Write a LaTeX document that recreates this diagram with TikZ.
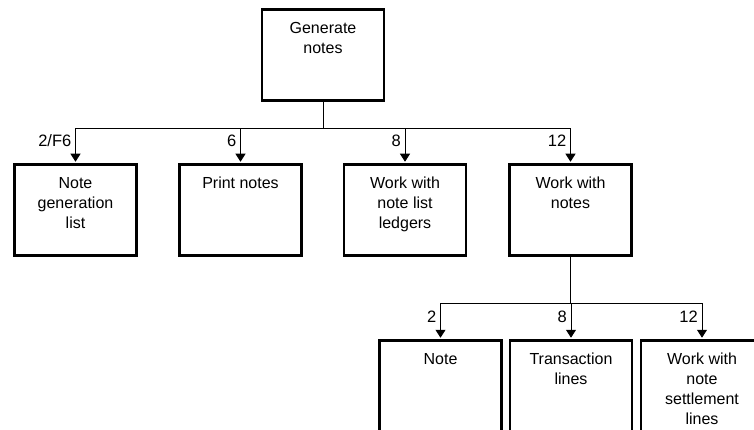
\documentclass[tikz,border=0pt]{standalone}
\usepackage{fontspec}
\setmainfont{Liberation Sans}
\usetikzlibrary{arrows.meta}
\begin{document}
\begin{tikzpicture}[
  x={(1pt,0)}, y={(0,-1pt)},
  font=\fontsize{16}{20}\selectfont,
  taskbox/.style={draw, line width=2.6pt, minimum width=122pt, minimum height=91.5pt, inner sep=0pt},
  boxtext/.style={anchor=north, inner sep=0pt, align=center, yshift=-14pt},
  link/.style={line width=0.9pt},
  feed/.style={line width=0.9pt, -{Triangle[width=10pt,length=8pt]}, shorten >=1.2pt},
  num/.style={anchor=base east, inner sep=0pt, font=\fontsize{16.5}{20}\selectfont}
]
\useasboundingbox (0,0) rectangle (754,430);
\clip (0,0) rectangle (754,430);

% top task
\node[taskbox] (top) at (323,55) {};
\node[boxtext] (topt) at (top.north) {Generate\\notes};

% second row
\node[taskbox] (n1) at (75.5,210) {};
\node[taskbox] (n2) at (240.5,210) {};
\node[taskbox] (n3) at (405,210) {};
\node[taskbox] (n4) at (570.5,210) {};
\node[boxtext] (n1t) at (n1.north) {Note\\generation\\list};
\node[boxtext] (n2t) at (n2.north) {Print notes};
\node[boxtext] (n3t) at (n3.north) {Work with\\note list\\ledgers};
\node[boxtext] (n4t) at (n4.north) {Work with\\notes};

% third row (under "Work with notes")
\node[taskbox] (c1) at (440.5,386) {};
\node[taskbox] (c2) at (571,386) {};
\node[taskbox] (c3) at (702,386) {};
\node[boxtext] (c1t) at (c1.north) {Note};
\node[boxtext] (c2t) at (c2.north) {Transaction\\lines};
\node[boxtext] (c3t) at (c3.north) {Work with\\note\\settlement\\lines};

% bus lines
\coordinate (busA) at (0,128);
\coordinate (busB) at (0,303);

\draw[link] (top.south) -- (top.south |- busA);
\draw[feed] (top.south |- busA) -| (n1.north);
\draw[feed] (top.south |- busA) -| (n2.north);
\draw[feed] (top.south |- busA) -| (n3.north);
\draw[feed] (top.south |- busA) -| (n4.north);

\draw[link] (n4.south) -- (n4.south |- busB);
\draw[feed] (n4.south |- busB) -| (c1.north);
\draw[feed] (n4.south |- busB) -| (c2.north);
\draw[feed] (n4.south |- busB) -| (c3.north);

% option numbers
\node[num] (l1) at ([xshift=-4pt] n1.north |- 0,147) {2/F6};
\node[num] (l2) at ([xshift=-4pt] n2.north |- 0,147) {6};
\node[num] (l3) at ([xshift=-4pt] n3.north |- 0,147) {8};
\node[num] (l4) at ([xshift=-4pt] n4.north |- 0,147) {12};
\node[num] (l5) at ([xshift=-4pt] c1.north |- 0,322) {2};
\node[num] (l6) at ([xshift=-4pt] c2.north |- 0,322) {8};
\node[num] (l7) at ([xshift=-4pt] c3.north |- 0,322) {12};
\end{tikzpicture}
\end{document}
